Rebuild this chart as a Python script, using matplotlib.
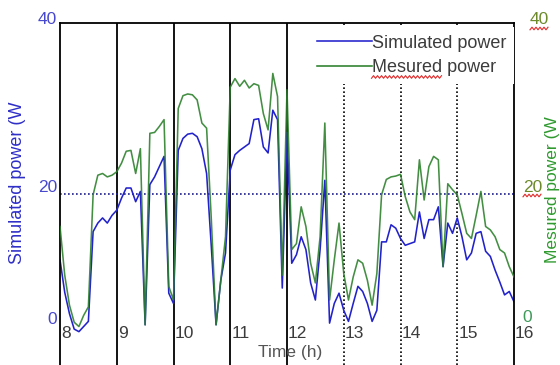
import matplotlib
matplotlib.use("Agg")
import matplotlib.pyplot as plt
import matplotlib.transforms as mtransforms
from matplotlib.lines import Line2D
import numpy as np

plt.rcParams['font.family'] = ['Liberation Sans', 'DejaVu Sans']

# power readings every 5 minutes from 8:00 to 16:00 (W)
simulated = [
    12.3, 8.5, 6.0, 4.2, 3.9, 4.5, 5.1, 15.6, 16.6, 17.2, 16.6, 17.5, 18.1,
    19.5, 20.7, 20.7, 19.1, 20.3, 4.7, 21.1, 22.0, 23.2, 24.4, 8.4, 7.2,
    25.1, 26.5, 27.0, 27.1, 26.7, 25.3, 22.4, 13.8, 4.7, 9.9, 13.1, 22.8,
    24.6, 25.1, 25.5, 25.9, 28.7, 28.8, 25.5, 24.8, 29.8, 28.7, 9.0, 27.2,
    11.9, 12.9, 15.0, 13.5, 9.6, 7.6, 13.5, 21.6, 4.9, 7.2, 8.4, 6.4,
    5.1, 7.2, 9.2, 8.6, 7.2, 5.1, 6.4, 14.4, 14.4, 16.4, 16.0, 14.8,
    14.0, 14.2, 14.4, 17.9, 14.8, 17.0, 17.0, 18.5, 11.5, 16.6, 15.4, 17.2,
    15.0, 12.3, 13.1, 15.4, 15.6, 13.3, 12.7, 11.1, 9.7, 8.2, 8.6, 7.4,
]
measured = [
    16.2, 10.5, 7.0, 5.0, 4.5, 5.8, 6.8, 19.9, 22.2, 22.4, 22.0, 22.2, 22.6,
    23.6, 25.0, 25.1, 22.4, 25.3, 4.7, 27.1, 27.2, 27.9, 28.7, 9.2, 7.6,
    30.0, 31.5, 31.7, 31.6, 31.0, 28.3, 27.7, 17.0, 4.7, 9.9, 15.0, 32.5,
    33.5, 32.6, 33.3, 32.4, 32.9, 32.7, 29.4, 27.5, 34.1, 31.4, 10.5, 32.2,
    13.5, 14.2, 18.5, 16.2, 11.9, 9.6, 15.0, 28.3, 7.6, 12.3, 16.6, 10.7,
    7.6, 10.3, 12.3, 11.9, 9.9, 7.0, 10.7, 19.9, 21.7, 22.0, 22.1, 22.3,
    19.7, 17.9, 17.0, 24.0, 19.3, 23.2, 24.4, 24.0, 11.5, 21.2, 20.5, 19.9,
    17.7, 15.4, 14.8, 17.5, 20.3, 16.2, 15.8, 15.0, 13.5, 13.1, 11.5, 10.3,
]
hours = [8, 9, 10, 11, 12, 13, 14, 15, 16]
solid_hours = [9, 10, 11, 12]
dotted_hours = [13, 14, 15]
power_ticks = [0, 20, 40]
series_names = ['Simulated power', 'Mesured power']

times = np.linspace(hours[0], hours[-1], len(simulated))

BLUE = '#2222cc'
GREEN = '#2a7f2a'
GREY = '#3c3c3c'

fig = plt.figure(figsize=(5.6, 3.65), dpi=100)
ax = fig.add_axes([60 / 560, 0, 454 / 560, 342 / 365])
ax.set_xlim(hours[0], hours[-1])
ax.set_ylim(0, 40)
ax.set_xticks([])
ax.set_yticks([])
for side in ['left', 'top', 'right']:
    ax.spines[side].set_linewidth(1.3)
ax.spines['bottom'].set_visible(False)

# hour grid: solid for the morning, dotted for the afternoon
for h in solid_hours:
    ax.axvline(h, color='k', lw=1.3, zorder=1)
for h in dotted_hours:
    ax.axvline(h, color='k', lw=1.2, ls=(0, (1, 1.4)), zorder=1)
ax.axhline(20, color='#1c1c8c', lw=1.2, ls=(0, (1, 1.4)), zorder=1)

ax.plot(times, simulated, color=BLUE, lw=1.15, zorder=2)
ax.plot(times, measured, color=GREEN, lw=1.15, alpha=0.88, zorder=3)

handles = [Line2D([], [], color=BLUE, lw=1.15), Line2D([], [], color=GREEN, lw=1.15)]
leg = ax.legend(handles, series_names, loc='upper right', bbox_to_anchor=(1.008, 1.0),
                frameon=True, facecolor='white', edgecolor='none', framealpha=1,
                fancybox=False, handlelength=3.0, handletextpad=0.0, borderpad=0.45,
                labelspacing=0.4, fontsize=13, borderaxespad=0.2)
for txt in leg.get_texts():
    txt.set_color(GREY)

def px_offset(dx, dy):
    return mtransforms.ScaledTranslation(dx / 100, dy / 100, fig.dpi_scale_trans)

# hour labels sit inside the plot, just right of each grid line
for h in hours:
    ax.text(h, 3.7, str(h), ha='left', va='center', fontsize=12.5, color=GREY,
            transform=ax.transData + px_offset(1, 0), zorder=4)

left_shift = [45, 7, 3]
right_shift = [(8, 48), (9, 7), (16, 3)]
ylab_trans = mtransforms.blended_transform_factory(ax.transAxes, ax.transData)
for v, dy in zip(power_ticks, left_shift):
    ax.text(0, v, str(v), ha='right', va='center', fontsize=12.5, color='#4848cc',
            transform=ylab_trans + px_offset(-3, dy), clip_on=False)
right_labels = []
for v, (dx, dy) in zip(power_ticks, right_shift):
    t = ax.text(1, v, str(v), ha='left', va='center', fontsize=12.5,
                color='#3f9a5a' if v == 0 else '#6c8a2a',
                transform=ylab_trans + px_offset(dx, dy), clip_on=False)
    right_labels.append(t)

fig.text(18 / 560, 1 - 183 / 365, 'Simulated power (W', rotation=90, ha='center',
         va='center', fontsize=13, color='#2f2fc8')
fig.text(552 / 560, 1 - 190 / 365, 'Mesured power (W', rotation=90, ha='center',
         va='center', fontsize=12.5, color='#2f9a2f')
fig.text(290 / 560, 1 - 352 / 365, 'Time (h)', ha='center', va='center',
         fontsize=12.5, color='#555555')

# red spell-check squiggles under a few words
fig.canvas.draw()
renderer = fig.canvas.get_renderer()

def squiggle(x0, x1, y):
    xs = np.arange(x0, x1, 2.0)
    ys = y + np.where(np.arange(len(xs)) % 2, 1.3, -1.3)
    fig.add_artist(Line2D(xs, ys, color='#e02828', lw=0.8,
                          transform=mtransforms.IdentityTransform()))

for t in right_labels[1:]:
    bb = t.get_window_extent(renderer)
    squiggle(bb.x0, bb.x1, bb.y0 - 1)

mes = leg.get_texts()[1]
bb = mes.get_window_extent(renderer)
tmp = fig.text(0, 0, 'Mesured', fontsize=13)
w = tmp.get_window_extent(renderer).width
tmp.remove()
squiggle(bb.x0, bb.x0 + w, bb.y0 - 1)

fig.savefig('out.png', dpi=100)
